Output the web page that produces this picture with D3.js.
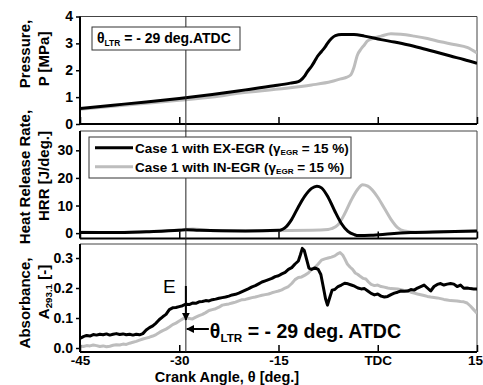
<!DOCTYPE html>
<html>
<head>
<meta charset="utf-8">
<script src="https://cdnjs.cloudflare.com/ajax/libs/d3/7.8.5/d3.min.js"></script>
<style>
  body { margin: 0; background: #fff; }
  svg { display: block; font-family: Arial, "Liberation Sans", sans-serif; font-weight: bold; }
</style>
</head>
<body>
<svg id="chart" width="483" height="385"></svg>
<script>
// Crank angle axis
const xTicks = [-45, -30, -15, 0, 15];
const xTickLabels = ["-45", "-30", "-15", "TDC", "15"];
const ltrAngle = -29;

// Pressure [MPa], EX-EGR (black)
const pAngleEx = [-45, -40, -35, -30, -25, -20, -15.7, -13.2, -12, -11.7, -11, -10.6, -10, -9.5, -9.1, -8.5, -8, -7.6, -7, -6.4, -5.5, -3.6, -2, 0.5, 2.5, 4.5, 6.5, 8.5, 11, 13, 15];
const pEx = [0.58, 0.7, 0.82, 0.95, 1.1, 1.27, 1.42, 1.52, 1.58, 1.62, 1.8, 1.96, 2.15, 2.35, 2.52, 2.7, 2.85, 3.0, 3.18, 3.29, 3.33, 3.33, 3.27, 3.14, 3.05, 2.95, 2.83, 2.7, 2.53, 2.4, 2.26];
// Pressure [MPa], IN-EGR (grey)
const pAngleIn = [-45, -40, -35, -30, -25, -20.8, -15, -10, -7, -5.6, -4.8, -4.1, -3.6, -3.1, -2.5, -2, -1.6, -0.5, 0.5, 2, 3.5, 5.5, 7.5, 9.5, 11.5, 13.6, 15];
const pIn = [0.55, 0.66, 0.77, 0.88, 1.0, 1.15, 1.3, 1.45, 1.58, 1.68, 1.73, 1.82, 2.1, 2.55, 2.8, 2.95, 3.08, 3.2, 3.27, 3.36, 3.34, 3.27, 3.18, 3.06, 2.96, 2.84, 2.64];

// Heat release rate [J/deg.]
const hAngleEx = [-45, -40, -35, -30, -29, -27, -20, -15, -14.5, -14, -13, -12, -11, -10, -9.2, -8.5, -7.5, -6.5, -5.5, -4.5, -3.5, -3, -1, 2, 5, 10, 15];
const hEx = [0.2, 0.2, 0.5, 1.0, 1.2, 1.0, 0.8, 1.0, 1.3, 2.0, 5.0, 9.5, 13.5, 16.2, 17.0, 16.4, 13.0, 8.0, 3.5, 0.6, -0.6, -0.9, -0.8, -0.2, 0.2, 0.5, 0.8];
const hAngleIn = [-45, -40, -35, -30, -28, -25, -20, -10, -7.5, -7, -6, -5, -4, -3, -2.3, -1.5, 0, 1, 2, 3, 4, 6, 10, 15];
const hIn = [0.4, 0.2, 0.5, 1.1, 1.5, 0.9, 0.8, 1.0, 1.3, 1.6, 3.0, 7.0, 12.0, 16.0, 17.5, 17.0, 13.0, 9.0, 5.0, 2.0, 0.8, 0.3, 0.5, 0.8];

// Absorbance A293.1 [-]
const aAngleEx = [-45, -44.5, -44, -43.5, -43, -42.5, -42, -41.5, -41, -40.5, -40, -39.5, -39, -38.5, -38, -37.5, -37, -36.5, -36, -35.5, -35, -34.5, -34, -33.5, -33, -32.5, -32, -31.5, -31, -30.5, -30, -29.5, -29, -28.5, -28, -27.5, -27, -26.5, -26, -25.5, -25, -24.5, -24, -23.5, -23, -22.5, -22, -21.5, -21, -20.5, -20, -19.5, -19, -18.5, -18, -17.5, -17, -16.5, -16, -15.5, -15, -14.5, -14, -13.5, -13, -12.5, -12, -11.7, -11.4, -11.1, -10.8, -10.4, -10, -9.5, -9, -8.6, -8.2, -7.9, -7.6, -7.3, -6.9, -6.5, -6, -5.5, -5, -4.5, -4, -3.5, -3, -2.5, -2, -1.5, -1, -0.5, 0, 0.5, 1, 1.5, 2, 2.5, 3, 3.5, 4, 4.5, 5, 5.5, 6, 6.5, 7, 7.5, 8, 8.5, 9, 9.5, 10, 10.5, 11, 11.5, 12, 12.5, 13, 13.5, 14, 14.5, 15];
const aEx = [0.032, 0.038, 0.042, 0.04, 0.045, 0.043, 0.046, 0.044, 0.047, 0.043, 0.046, 0.048, 0.045, 0.047, 0.044, 0.046, 0.043, 0.046, 0.044, 0.048, 0.06, 0.068, 0.074, 0.083, 0.095, 0.104, 0.112, 0.128, 0.134, 0.135, 0.138, 0.141, 0.146, 0.145, 0.15, 0.149, 0.154, 0.155, 0.158, 0.157, 0.161, 0.163, 0.166, 0.168, 0.17, 0.173, 0.177, 0.179, 0.183, 0.188, 0.193, 0.198, 0.204, 0.208, 0.214, 0.22, 0.224, 0.228, 0.232, 0.238, 0.241, 0.247, 0.252, 0.262, 0.268, 0.28, 0.29, 0.31, 0.332, 0.325, 0.3, 0.266, 0.262, 0.267, 0.262, 0.245, 0.2, 0.165, 0.143, 0.165, 0.193, 0.195, 0.205, 0.21, 0.216, 0.214, 0.21, 0.206, 0.2, 0.197, 0.198, 0.19, 0.182, 0.177, 0.18, 0.173, 0.17, 0.172, 0.178, 0.183, 0.186, 0.19, 0.189, 0.19, 0.195, 0.193, 0.2, 0.205, 0.21, 0.2, 0.19, 0.205, 0.212, 0.215, 0.21, 0.213, 0.215, 0.213, 0.205, 0.21, 0.199, 0.2, 0.198, 0.197, 0.197];
const aAngleIn = [-45, -44.5, -44, -43.5, -43, -42.5, -42, -41.5, -41, -40.5, -40, -39.5, -39, -38.5, -38, -37.5, -37, -36.5, -36, -35.5, -35, -34.5, -34, -33.5, -33, -32.5, -32, -31.5, -31, -30.5, -30, -29.5, -29, -28.5, -28, -27.5, -27, -26.5, -26, -25.5, -25, -24.5, -24, -23.5, -23, -22.5, -22, -21.5, -21, -20.5, -20, -19.5, -19, -18.5, -18, -17.5, -17, -16.5, -16, -15.5, -15, -14.5, -14, -13.5, -13, -12.5, -12, -11.5, -11, -10.5, -10, -9.5, -9, -8.5, -8, -7.5, -7, -6.5, -6, -5.7, -5.3, -5, -4.6, -4.2, -3.8, -3.4, -3, -2.6, -2.2, -1.8, -1.4, -1, -0.5, 0, 0.5, 1, 1.5, 2, 3, 4, 4.5, 5, 5.5, 6, 7, 7.5, 8, 9, 10, 10.5, 11, 12, 12.5, 13, 13.5, 14, 14.5, 15];
const aIn = [0.007, 0.005, 0.008, 0.007, 0.01, 0.008, 0.005, 0.007, 0.004, 0.006, 0.009, 0.011, 0.01, 0.013, 0.012, 0.016, 0.019, 0.022, 0.026, 0.03, 0.033, 0.036, 0.04, 0.045, 0.052, 0.058, 0.063, 0.07, 0.078, 0.083, 0.09, 0.097, 0.102, 0.098, 0.097, 0.103, 0.108, 0.112, 0.118, 0.125, 0.128, 0.131, 0.136, 0.143, 0.145, 0.147, 0.15, 0.153, 0.157, 0.161, 0.162, 0.165, 0.168, 0.17, 0.173, 0.176, 0.178, 0.18, 0.184, 0.187, 0.19, 0.194, 0.2, 0.205, 0.215, 0.228, 0.235, 0.237, 0.243, 0.25, 0.262, 0.268, 0.28, 0.293, 0.297, 0.3, 0.303, 0.307, 0.315, 0.318, 0.31, 0.298, 0.28, 0.27, 0.262, 0.25, 0.245, 0.238, 0.232, 0.23, 0.22, 0.212, 0.208, 0.21, 0.205, 0.203, 0.2, 0.198, 0.197, 0.192, 0.19, 0.186, 0.183, 0.18, 0.175, 0.172, 0.17, 0.167, 0.162, 0.16, 0.158, 0.157, 0.155, 0.154, 0.15, 0.14, 0.128, 0.116];

const seriesNames = ["Case 1 with EX-EGR", "Case 1 with IN-EGR"];
const seriesColors = ["#000000", "#bdbdbd"];

const svg = d3.select("#chart");
const x = d3.scaleLinear().domain([-45, 15]).range([80, 477]);

// helper: text with subscript pieces [[text, isSub], ...]
function richText(sel, parts, subScale) {
    parts.forEach(([t, sub], i) => {
        const prevSub = i > 0 && parts[i - 1][1];
        const ts = sel.append("tspan").text(t);
        if (sub) ts.attr("font-size", subScale + "em").attr("dy", "0.3em");
        else if (prevSub) ts.attr("dy", "-" + (0.3 * subScale) + "em");
    });
    return sel;
}

// Panel definitions
const panels = [
    {
        id: "p", top: 16.5, bottom: 124, domain: [0, 4], ticks: [0, 1, 2, 3, 4], fmt: d3.format("d"),
        series: [[pAngleEx, pEx], [pAngleIn, pIn]], curve: d3.curveMonotoneX,
        title1: [["Pressure,", false]], title2: [["P [MPa]", false]], c1: 54, c2: 59
    },
    {
        id: "h", top: 131, bottom: 238.5, domain: [-1.95, 37], ticks: [0, 10, 20, 30], fmt: d3.format("d"),
        series: [[hAngleEx, hEx], [hAngleIn, hIn]], curve: d3.curveMonotoneX,
        title1: [["Heat Release Rate,", false]], title2: [["HRR [J/deg.]", false]], c1: 177, c2: 176
    },
    {
        id: "a", top: 244, bottom: 352, domain: [-0.0133, 0.3467], ticks: [0, 0.1, 0.2, 0.3], fmt: d3.format(".1f"),
        series: [[aAngleEx, aEx], [aAngleIn, aIn]], curve: d3.curveLinear,
        title1: [["Absorbance,", false]], title2: [["A", false], ["293.1", true], [" [-]", false]], c1: 303, c2: 292
    }
];

panels.forEach((pn, k) => {
    const y = d3.scaleLinear().domain(pn.domain).range([pn.bottom, pn.top]);
    const g = svg.append("g").attr("class", "panel-" + pn.id);

    g.append("clipPath").attr("id", "clip-" + pn.id)
        .append("rect")
        .attr("x", x(-45)).attr("y", pn.top)
        .attr("width", x(15) - x(-45)).attr("height", pn.bottom - pn.top);

    // thin top / right frame
    g.append("path")
        .attr("d", `M${x(-45)},${pn.top}H${x(15)}V${pn.bottom}`)
        .attr("fill", "none").attr("stroke", "#444").attr("stroke-width", 1);

    // curves: grey first so black sits on top where they overlap
    const line = d3.line().curve(pn.curve).x(d => x(d[0])).y(d => y(d[1]));
    [1, 0].forEach(i => {
        const [ang, val] = pn.series[i];
        g.append("path")
            .datum(ang.map((a, j) => [a, val[j]]))
            .attr("clip-path", `url(#clip-${pn.id})`)
            .attr("fill", "none")
            .attr("stroke", seriesColors[i])
            .attr("stroke-width", 3)
            .attr("stroke-linejoin", "round")
            .attr("d", line);
    });

    // y axis
    const yAxis = g.append("g").attr("transform", `translate(${x(-45)},0)`)
        .call(d3.axisLeft(y).tickValues(pn.ticks).tickFormat(pn.fmt).tickSize(4).tickPadding(3));
    yAxis.select(".domain").attr("stroke-width", 2).attr("d", `M0,${pn.bottom}V${pn.top}`);
    yAxis.selectAll(".tick line").attr("stroke-width", 1.5);
    yAxis.selectAll("text").attr("font-size", 14).attr("font-family", null).attr("fill", "#000");

    // x axis, inward ticks
    const xAxis = g.append("g").attr("transform", `translate(0,${pn.bottom})`)
        .call(d3.axisBottom(x).tickValues(xTicks).tickSize(-7).tickPadding(2)
            .tickFormat((d, i) => k === 2 ? xTickLabels[i] : ""));
    xAxis.select(".domain").attr("stroke-width", 2).attr("d", `M${x(-45)},0H${x(15)}`);
    xAxis.selectAll(".tick line").attr("stroke-width", 1.5);
    xAxis.selectAll("text").attr("font-size", 13.5).attr("font-family", null).attr("fill", "#000").attr("dy", "0.8em")
        .attr("dx", d => d === 15 ? -2 : 0);

    // y titles (two lines, rotated)
    richText(svg.append("text")
        .attr("transform", `translate(30,${pn.c1}) rotate(-90)`)
        .attr("text-anchor", "middle").attr("font-size", 15), pn.title1, 0.65);
    richText(svg.append("text")
        .attr("transform", `translate(49,${pn.c2}) rotate(-90)`)
        .attr("text-anchor", "middle").attr("font-size", 15), pn.title2, 0.65);

    pn.y = y;
});

// vertical marker at theta_LTR through all panels
svg.append("line")
    .attr("x1", x(ltrAngle)).attr("x2", x(ltrAngle))
    .attr("y1", panels[0].top).attr("y2", panels[2].bottom)
    .attr("stroke", "#222").attr("stroke-width", 1);

// text box in pressure panel
svg.append("rect").attr("x", 92).attr("y", 27).attr("width", 148).attr("height", 23)
    .attr("fill", "#fff").attr("stroke", "#333").attr("stroke-width", 1);
richText(svg.append("text").attr("x", 97).attr("y", 43).attr("font-size", 14),
    [["θ", false], ["LTR", true], [" = - 29 deg.ATDC", false]], 0.6);

// legend in HRR panel
svg.append("rect").attr("x", 89).attr("y", 137).attr("width", 262).attr("height", 41)
    .attr("fill", "#fff").attr("stroke", "#333").attr("stroke-width", 1);
seriesNames.forEach((name, i) => {
    const ly = 147.7 + i * 19;
    svg.append("line").attr("x1", 95).attr("x2", 133).attr("y1", ly).attr("y2", ly)
        .attr("stroke", seriesColors[i]).attr("stroke-width", 3);
    richText(svg.append("text").attr("x", 135).attr("y", ly + 5).attr("font-size", 13.5),
        [[name + " (γ", false], ["EGR", true], [" = 15 %)", false]], 0.6);
});

// annotation in absorbance panel
const defs = svg.append("defs");
defs.append("marker").attr("id", "head").attr("viewBox", "0 0 10 10")
    .attr("refX", 9).attr("refY", 5).attr("markerWidth", 4).attr("markerHeight", 4)
    .attr("orient", "auto")
    .append("path").attr("d", "M0,0L10,5L0,10Z").attr("fill", "#000");

const xl = x(ltrAngle);
svg.append("line").attr("x1", xl).attr("x2", xl).attr("y1", 286).attr("y2", 320)
    .attr("stroke", "#000").attr("stroke-width", 2).attr("marker-end", "url(#head)");
svg.append("line").attr("x1", xl + 23).attr("x2", xl + 1).attr("y1", 329).attr("y2", 329)
    .attr("stroke", "#000").attr("stroke-width", 2).attr("marker-end", "url(#head)");
svg.append("text").attr("x", 163).attr("y", 293).attr("font-size", 19).attr("font-weight", "normal").text("E");
richText(svg.append("text").attr("x", xl + 24).attr("y", 338).attr("font-size", 19.5),
    [["θ", false], ["LTR", true], [" = - 29 deg. ATDC", false]], 0.6);

// x title
svg.append("text").attr("x", 227).attr("y", 382).attr("text-anchor", "middle")
    .attr("font-size", 14.5).text("Crank Angle, θ [deg.]");
</script>
</body>
</html>
